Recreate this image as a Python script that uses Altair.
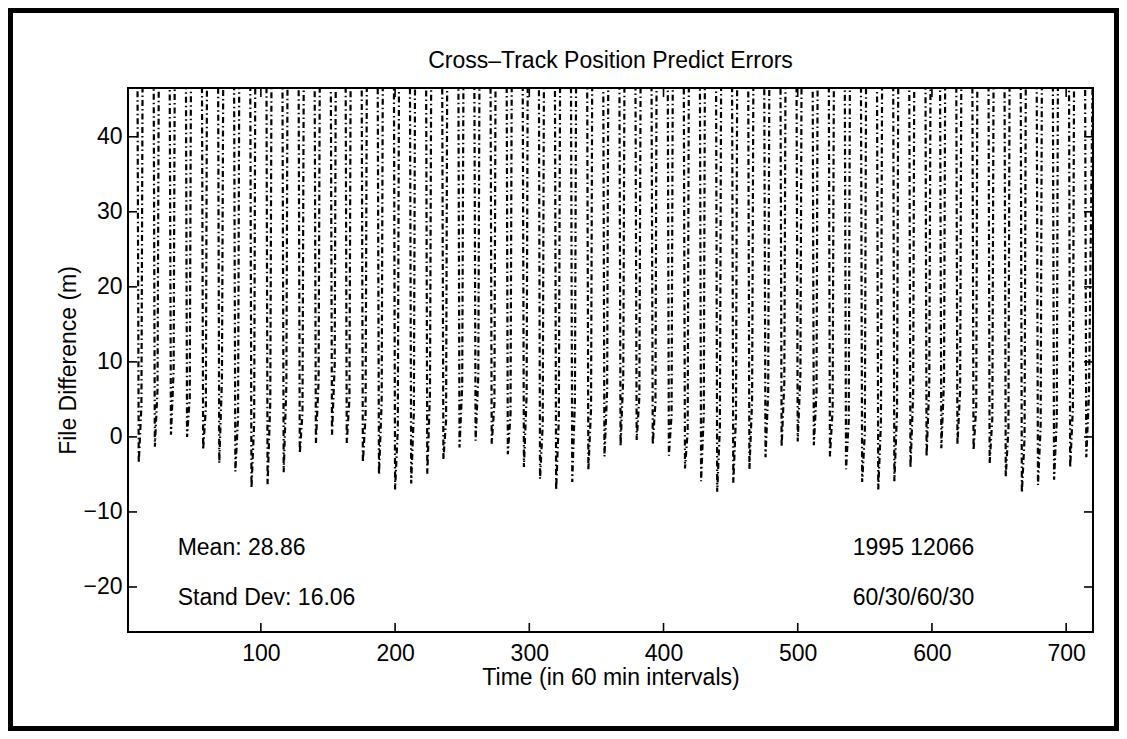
import altair as alt
import pandas as pd

title_text = "Cross–Track Position Predict Errors"
x_title = "Time (in 60 min intervals)"
y_title = "File Difference (m)"

# hour of each trough (one per ~12 h orbit) and the values read at / after it
trough_hours = [9, 21, 33, 45, 57, 69, 81, 93, 105, 117, 129, 141, 153, 164, 176,
                188, 200, 212, 224, 236, 248, 260, 272, 284, 296, 308, 320, 332, 344, 356,
                368, 380, 392, 404, 416, 428, 440, 452, 464, 476, 488, 500, 512, 524, 536,
                548, 560, 572, 584, 596, 607, 619, 631, 643, 655, 667, 679, 691, 703, 715]
trough_lows = [-3.5, -1.3, 0.3, 0.0, -1.7, -3.5, -4.6, -6.8, -6.3, -4.7, -2.2, -0.8, 0.3, -0.8, -3.4,
               -5.0, -7.0, -6.2, -4.9, -3.0, -1.4, -0.5, -0.9, -2.3, -4.0, -5.6, -7.1, -6.0, -4.4, -2.6,
               -1.2, -0.4, -1.0, -2.5, -4.2, -5.9, -7.3, -6.1, -4.3, -2.7, -1.3, -0.6, -1.1, -2.6, -4.3,
               -6.0, -7.0, -5.9, -4.1, -2.6, -1.5, -1.0, -1.8, -3.5, -5.3, -7.4, -6.4, -5.7, -4.1, -2.7]
after_lows = [4.1, 6.3, 8.8, 5.2, 3.9, 7.7, 2.6, 1.8, 4.5, 6.9, 3.2, 7.4, 9.6, 5.1, 2.8,
              4.7, 0.9, 3.3, 5.8, 2.2, 6.7, 8.1, 4.4, 3.0, 5.5, 1.6, 2.4, 4.9, 3.7, 6.2,
              7.9, 5.3, 4.6, 2.9, 0.7, 3.1, 1.2, 2.7, 4.8, 6.0, 7.2, 8.4, 5.9, 3.6, 2.1,
              0.4, 1.9, 3.4, 5.6, 6.8, 7.5, 6.1, 4.0, 2.5, 1.1, -0.2, 1.4, 2.3, 3.9, 5.7]
# values between troughs lie above the top of the axes (clipped)
gap_peaks = [52, 55, 51, 57, 53, 56, 50, 54, 58, 52, 55, 51, 53, 57, 54, 50,
             56, 52, 55, 53, 58, 51, 54, 56, 52, 57, 53, 50, 55, 54, 56, 52,
             51, 57, 53, 55, 58, 52, 54, 50, 56, 53, 55, 57, 51, 54, 52, 56,
             53, 58, 50, 55, 54, 57, 52, 56, 51, 53, 55, 54, 52]

x_ticks = [100, 200, 300, 400, 500, 600, 700]
y_ticks = [-20, -10, 0, 10, 20, 30, 40]

note_texts = ["Mean: 28.86", "Stand Dev: 16.06", "1995 12066", "60/30/60/30"]
note_x = [38, 38, 541, 541]
note_y = [-14.8, -21.5, -14.8, -21.5]

X_DOMAIN = [1, 720]
Y_DOMAIN = [-26, 46.5]
W, H = 965, 544
FONT = "Liberation Sans"
FS = 23

# build the series table
rows = []
prev_end = 1
for i, (t, lo, nx) in enumerate(zip(trough_hours, trough_lows, after_lows)):
    rows.append({"t": prev_end, "v": gap_peaks[i]})
    rows.append({"t": t - 1, "v": gap_peaks[i]})
    rows.append({"t": t, "v": lo})
    rows.append({"t": t + 2, "v": nx})
    prev_end = t + 3
rows.append({"t": 720, "v": gap_peaks[-1]})
series = pd.DataFrame(rows)

xs = alt.Scale(domain=X_DOMAIN, nice=False, zero=False)
ys = alt.Scale(domain=Y_DOMAIN, nice=False, zero=False)

x_enc = alt.X("t:Q", scale=xs, title=x_title, axis=alt.Axis(
    values=x_ticks, labelPadding=21, labelBaseline="middle",
    titleX=W / 2, titleY=45, titleBaseline="middle", titleAlign="center"))
y_enc = alt.Y("v:Q", scale=ys, title=y_title, axis=alt.Axis(
    values=y_ticks, labelPadding=6, labelBaseline="middle",
    titleX=-60, titleY=H / 2, titleBaseline="middle", titleAlign="center", titleAngle=270))

line = alt.Chart(series).mark_line(
    clip=True, color="black", strokeWidth=2.2, strokeDash=[6, 3, 1.5, 3]
).encode(x=x_enc, y=y_enc)

xt = pd.DataFrame({"t": x_ticks})
yt = pd.DataFrame({"v": y_ticks})
tick_len = 9
rule_kw = dict(color="black", strokeWidth=1.6)
bottom_ticks = alt.Chart(xt).mark_rule(**rule_kw).encode(
    x=x_enc, y=alt.value(H), y2=alt.value(H - tick_len))
top_ticks = alt.Chart(xt).mark_rule(**rule_kw).encode(
    x=x_enc, y=alt.value(0), y2=alt.value(tick_len))
left_ticks = alt.Chart(yt).mark_rule(**rule_kw).encode(
    y=y_enc, x=alt.value(0), x2=alt.value(tick_len))
right_ticks = alt.Chart(yt).mark_rule(**rule_kw).encode(
    y=y_enc, x=alt.value(W), x2=alt.value(W - tick_len))

notes = alt.Chart(pd.DataFrame({"t": note_x, "v": note_y, "s": note_texts})).mark_text(
    align="left", baseline="middle", font=FONT, fontSize=FS, color="black"
).encode(x=x_enc, y=y_enc, text="s:N")

one = alt.Data(values=[{"a": 1}])
title_mark = alt.Chart(one).mark_text(
    align="center", baseline="alphabetic", font=FONT, fontSize=FS, color="black"
).encode(x=alt.value(W / 2), y=alt.value(-20), text=alt.value(title_text))

box = alt.Chart(one).mark_rect(filled=False, stroke="black", strokeWidth=2).encode(
    x=alt.value(0), x2=alt.value(W), y=alt.value(0), y2=alt.value(H))

frame = alt.Chart(one).mark_rect(
    filled=False, stroke="black", strokeWidth=5, clip=False
).encode(
    x=alt.value(-117.5), x2=alt.value(988.5), y=alt.value(-77.5), y2=alt.value(640.5))

chart = alt.layer(
    frame, box, line, bottom_ticks, top_ticks, left_ticks, right_ticks, notes, title_mark
).properties(
    width=W, height=H,
    background="white",
    autosize=alt.AutoSizeParams(type="none"),
    padding={"left": 120, "top": 80, "right": 26, "bottom": 99},
).configure_view(
    stroke=None
).configure_axis(
    labelFont=FONT, labelFontSize=FS, labelColor="black",
    titleFont=FONT, titleFontSize=FS, titleColor="black", titleFontWeight="normal",
    domain=False, ticks=False, tickSize=0, grid=False,
)

chart.save("out.html", embed_options={"renderer": "svg", "actions": False})
